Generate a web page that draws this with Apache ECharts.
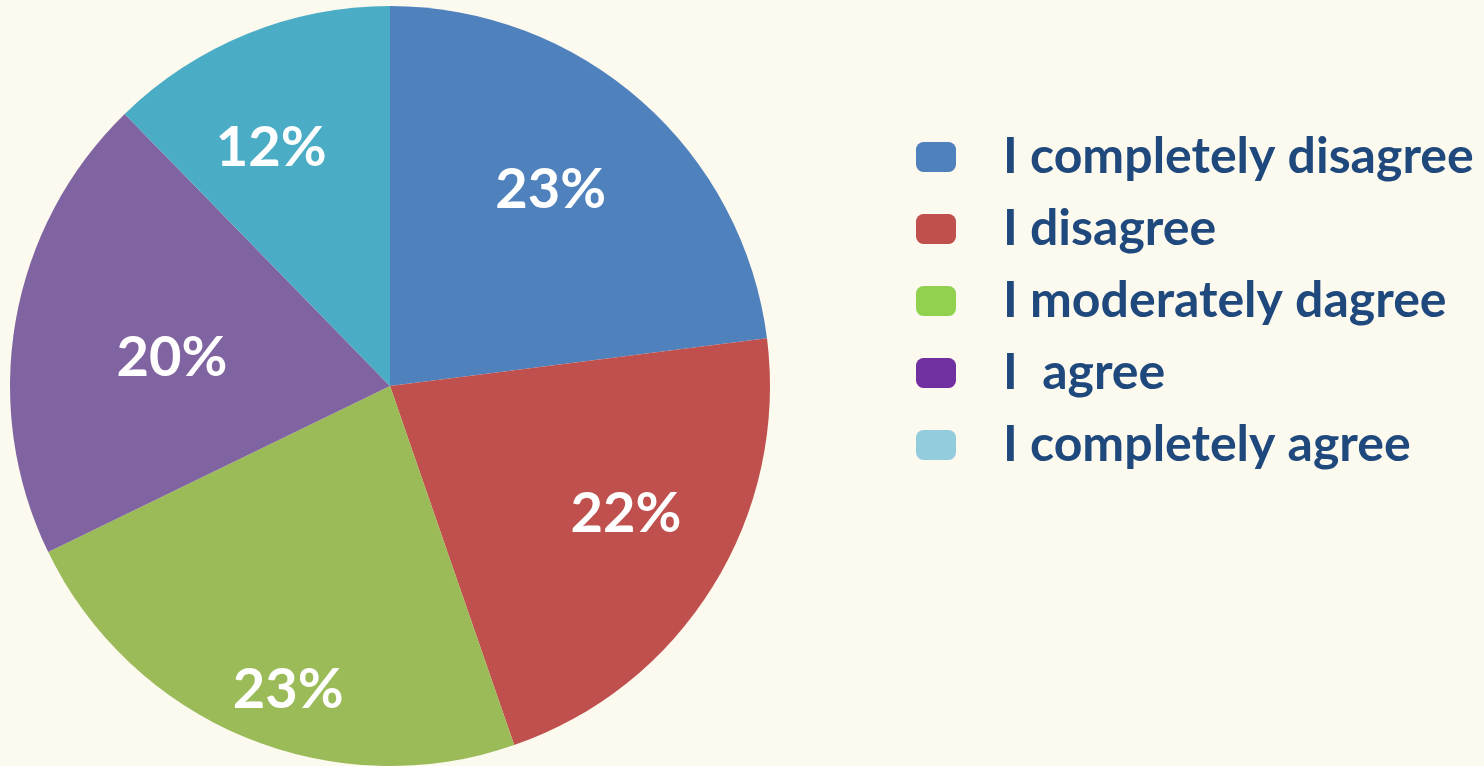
<!DOCTYPE html>
<html>
<head>
<meta charset="utf-8">
<script src="https://cdn.jsdelivr.net/npm/echarts@6/dist/echarts.min.js"></script>
<style>
html,body{margin:0;padding:0;background:#FCF9EE;}
#chart{width:1484px;height:766px;}
</style>
</head>
<body>
<div id="chart"></div>
<script>
const categories = ['I completely disagree', 'I disagree', 'I moderately dagree', 'I  agree', 'I completely agree'];
const values = [23.0, 21.7, 23.1, 19.9, 12.3];

const sliceColors = ['#4F81BD', '#C0504D', '#9BBB59', '#8064A2', '#4BACC6'];
const legendColors = ['#4F81BD', '#C0504D', '#92D050', '#7030A0', '#93CDDD'];
const labelNudge = [[33, -51], [72, 26], [-28, 126], [-28, 5], [-46, -59]];

const chart = echarts.init(document.getElementById('chart'));
chart.setOption({
  backgroundColor: '#FCF9EE',
  animation: false,
  legend: {
    orient: 'vertical',
    left: 916,
    top: 132,
    padding: 0,
    itemWidth: 40,
    itemHeight: 30,
    itemGap: 22,
    icon: 'roundRect',
    selectedMode: false,
    textStyle: {
      fontFamily: 'Lato',
      fontWeight: 'bold',
      fontSize: 50,
      color: '#1F497D',
      padding: [0, 0, 0, 42]
    },
    data: categories.map((c, i) => ({ name: c, itemStyle: { color: legendColors[i] } }))
  },
  series: [{
    type: 'pie',
    center: [390, 386],
    radius: 380,
    startAngle: 90,
    clockwise: true,
    silent: true,
    label: {
      show: true,
      position: 'inside',
      formatter: p => Math.round(p.value) + '%',
      color: '#FFFFFF',
      fontFamily: 'Lato',
      fontWeight: 'bold',
      fontSize: 56
    },
    labelLine: { show: false },
    itemStyle: { borderWidth: 0 },
    data: categories.map((c, i) => ({
      name: c,
      value: values[i],
      itemStyle: { color: sliceColors[i] },
      label: { offset: labelNudge[i] }
    }))
  }]
});
</script>
</body>
</html>
